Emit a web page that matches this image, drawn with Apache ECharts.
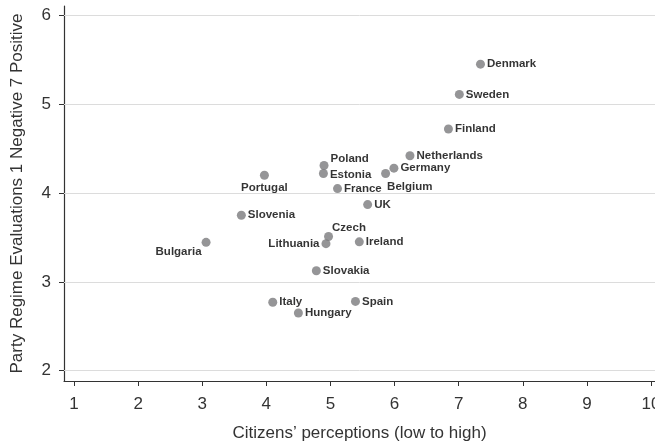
<!DOCTYPE html>
<html>
<head>
<meta charset="utf-8">
<script src="https://cdn.jsdelivr.net/npm/echarts@6/dist/echarts.min.js"></script>
<style>
  html, body { margin: 0; padding: 0; background: #fff; }
  #chart { width: 655px; height: 444px; }
</style>
</head>
<body>
<div id="chart"></div>
<script>
// 数据：国家、横轴（公民感知）、纵轴（政党评价）
const countries = ['Denmark', 'Sweden', 'Finland', 'Netherlands', 'Germany', 'Belgium', 'Poland', 'Estonia',
  'France', 'UK', 'Portugal', 'Slovenia', 'Bulgaria', 'Lithuania', 'Czech', 'Ireland', 'Slovakia',
  'Italy', 'Hungary', 'Spain']
const perceptions = [7.34, 7.01, 6.84, 6.24, 5.99, 5.86, 4.90, 4.89, 5.11, 5.58, 3.97, 3.61, 3.06, 4.93, 4.97,
  5.45, 4.78, 4.10, 4.50, 5.39]
const evaluations = [5.45, 5.11, 4.72, 4.42, 4.28, 4.22, 4.31, 4.22, 4.05, 3.87, 4.20, 3.75, 3.445, 3.43, 3.51,
  3.45, 3.125, 2.77, 2.65, 2.78]
const xTicks = [1, 2, 3, 4, 5, 6, 7, 8, 9, 10]
const yTicks = [2, 3, 4, 5, 6]

// 标签位置（默认右侧）
const labelPlace = {
  Belgium: { position: 'right', offset: [-5, 13] },
  Poland: { position: 'right', offset: [0, -7] },
  Estonia: { position: 'right', offset: [0, 1] },
  Portugal: { position: 'bottom' },
  Bulgaria: { position: 'left', offset: [2, 10] },
  Lithuania: { position: 'left' },
  Czech: { position: 'right', offset: [-3, -9] }
}

const myChart = echarts.init(document.getElementById('chart'))

const points = countries.map((name, i) => {
  const item = { name: name, value: [perceptions[i], evaluations[i]] }
  if (labelPlace[name]) item.label = labelPlace[name]
  return item
})

const textColor = '#333'
const font = 'Liberation Sans, Arial, sans-serif'

const option = {
  animation: false,
  backgroundColor: '#fff',
  grid: { left: 64, right: 0, top: 6, bottom: 63, outerBoundsMode: 'none' },
  xAxis: {
    type: 'value',
    min: 0.844,
    max: 10.062,
    name: 'Citizens\u2019 perceptions (low to high)',
    nameLocation: 'middle',
    nameGap: 44,
    nameTextStyle: { fontSize: 17, color: textColor, fontFamily: font },
    axisLine: { show: true, onZero: false, lineStyle: { color: '#333', width: 1.2 } },
    axisTick: { show: true, customValues: xTicks, length: 5, lineStyle: { color: '#333' } },
    axisLabel: { customValues: xTicks, margin: 15, fontSize: 17, color: textColor, fontFamily: font },
    splitLine: { show: false }
  },
  yAxis: {
    type: 'value',
    min: 1.884,
    max: 6.105,
    name: 'Party Regime Evaluations 1 Negative 7 Positive',
    nameLocation: 'middle',
    nameGap: 38,
    nameTextStyle: { fontSize: 17, color: textColor, fontFamily: font },
    axisLine: { show: true, onZero: false, lineStyle: { color: '#333', width: 1.2 } },
    axisTick: { show: true, customValues: yTicks, length: 5, lineStyle: { color: '#333' } },
    axisLabel: { customValues: yTicks, margin: 13, fontSize: 17, color: textColor, fontFamily: font },
    splitLine: { show: false }
  },
  series: [
    {
      type: 'scatter',
      symbol: 'circle',
      symbolSize: 9,
      itemStyle: { color: '#7b7b7d' },
      label: {
        show: true,
        position: 'right',
        distance: 2,
        formatter: '{b}',
        fontSize: 11.5,
        fontWeight: 'bold',
        color: '#000',
        fontFamily: font
      },
      // 网格线
      markLine: {
        silent: true,
        symbol: 'none',
        label: { show: false },
        lineStyle: { color: '#dcdcdc', type: 'solid', width: 1 },
        data: yTicks.map(v => ({ yAxis: v }))
      },
      data: points
    }
  ]
}

myChart.setOption(option)
</script>
</body>
</html>
